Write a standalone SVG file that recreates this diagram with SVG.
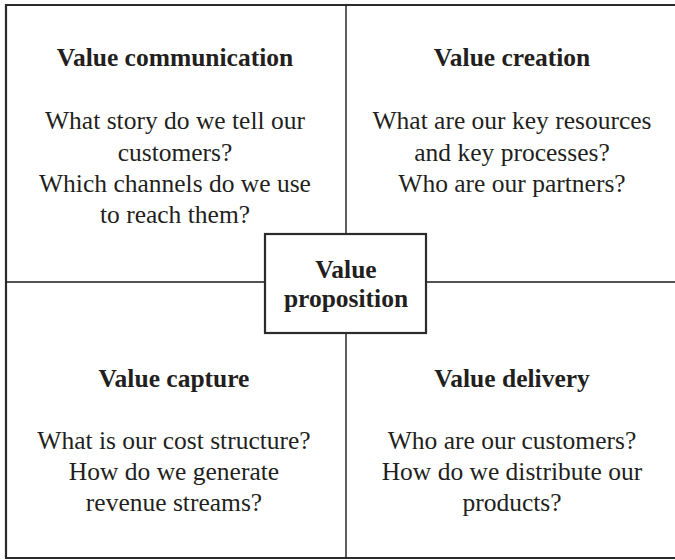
<svg xmlns="http://www.w3.org/2000/svg" width="675" height="560" viewBox="0 0 675 560">
  <style>
    .frame { fill: none; stroke: #2b2b2b; stroke-width: 2.2; }
    .div { stroke: #1a1a1a; stroke-width: 1.4; fill: none; }
    .box { fill: #ffffff; stroke: #2b2b2b; stroke-width: 2.2; }
    text { font-family: 'Liberation Serif', 'Times New Roman', serif; font-size: 25.5px; fill: #231f20; text-anchor: middle; }
    .title { font-weight: bold; }
  </style>
  <rect width="675" height="560" fill="#ffffff"/>
  <path class="frame" d="M 680 5 L 6 5 L 6 558 L 680 558"/>
  <g id="connectors">
    <line class="div" x1="346" y1="5" x2="346" y2="558"/>
    <line class="div" x1="6" y1="282" x2="680" y2="282"/>
  </g>
  <g id="value-communication">
    <text class="title" x="175" y="66">Value communication</text>
    <text class="body" x="175" y="129">What story do we tell our</text>
    <text class="body" x="175" y="160.5">customers?</text>
    <text class="body" x="175" y="192">Which channels do we use</text>
    <text class="body" x="175" y="223">to reach them?</text>
  </g>
  <g id="value-creation">
    <text class="title" x="512" y="66">Value creation</text>
    <text class="body" x="512" y="129">What are our key resources</text>
    <text class="body" x="512" y="160.5">and key processes?</text>
    <text class="body" x="512" y="192">Who are our partners?</text>
  </g>
  <g id="value-capture">
    <text class="title" x="174" y="387">Value capture</text>
    <text class="body" x="174" y="449">What is our cost structure?</text>
    <text class="body" x="174" y="480">How do we generate</text>
    <text class="body" x="174" y="511">revenue streams?</text>
  </g>
  <g id="value-delivery">
    <text class="title" x="512" y="387">Value delivery</text>
    <text class="body" x="512" y="449">Who are our customers?</text>
    <text class="body" x="512" y="480">How do we distribute our</text>
    <text class="body" x="512" y="511">products?</text>
  </g>
  <g id="value-proposition">
    <rect class="box" x="265" y="234" width="161" height="99"/>
    <text class="title" x="346" y="278">Value</text>
    <text class="title" x="346" y="307">proposition</text>
  </g>
</svg>
